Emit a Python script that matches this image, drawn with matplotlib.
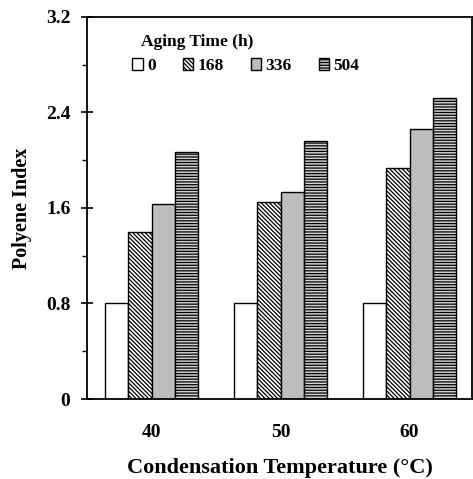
import matplotlib
matplotlib.use("Agg")
import matplotlib.pyplot as plt
import numpy as np
from matplotlib.ticker import MultipleLocator

plt.rcParams['font.family'] = ['Liberation Serif', 'DejaVu Serif']
plt.rcParams['font.weight'] = 'bold'
plt.rcParams['hatch.linewidth'] = 0.9

temps = ["40", "50", "60"]
aging_times = ["0", "168", "336", "504"]
polyene = {
    "0": [0.80, 0.80, 0.80],
    "168": [1.40, 1.65, 1.93],
    "336": [1.63, 1.73, 2.26],
    "504": [2.07, 2.16, 2.52],
}
yticks = [0, 0.8, 1.6, 2.4, 3.2]
ytick_labels = ["0", "0.8", "1.6", "2.4", "3.2"]

faces = ["white", "white", "#bdbdbd", "#d0d0d0"]
hatches = [None, "\\" * 8, None, "------"]

fig = plt.figure(figsize=(4.73, 4.79), dpi=100)
ax = fig.add_axes([0.184, 0.167, 0.814, 0.798])

x = np.arange(len(temps))
w = 0.18
for i, t in enumerate(aging_times):
    ax.bar(x + (i - 1.5) * w, polyene[t], w, color=faces[i], edgecolor="black",
           hatch=hatches[i], linewidth=1.0, label=t)

ax.set_xlim(-0.50, 2.484)
ax.set_ylim(0, 3.2)
ax.set_yticks(yticks, ytick_labels)
ax.yaxis.set_minor_locator(MultipleLocator(0.4))
ax.set_xticks(x, temps)
ax.tick_params(axis="y", which="major", direction="inout", length=8, width=1.2, pad=8, labelsize=14)
ax.tick_params(axis="y", which="minor", direction="out", length=3.5, width=1.0)
ax.tick_params(axis="x", length=0, pad=18, labelsize=14)
for s in ax.spines.values():
    s.set_linewidth(1.3)

ax.set_ylabel("Polyene Index", fontsize=14.5, fontweight="bold", labelpad=10)
ax.set_xlabel("Condensation Temperature (°C)", fontsize=16, fontweight="bold", labelpad=12)

ax.text(0.14, 0.955, "Aging Time (h)", transform=ax.transAxes, fontsize=12.5,
        fontweight="bold", va="top")
ax.legend(ncol=4, frameon=False, loc="upper left", bbox_to_anchor=(0.1, 0.91),
          handlelength=0.6, handleheight=0.6, handletextpad=0.25, columnspacing=1.55,
          prop={"size": 12.5, "weight": "bold"}, borderaxespad=0)

fig.savefig("out.png", dpi=100)
